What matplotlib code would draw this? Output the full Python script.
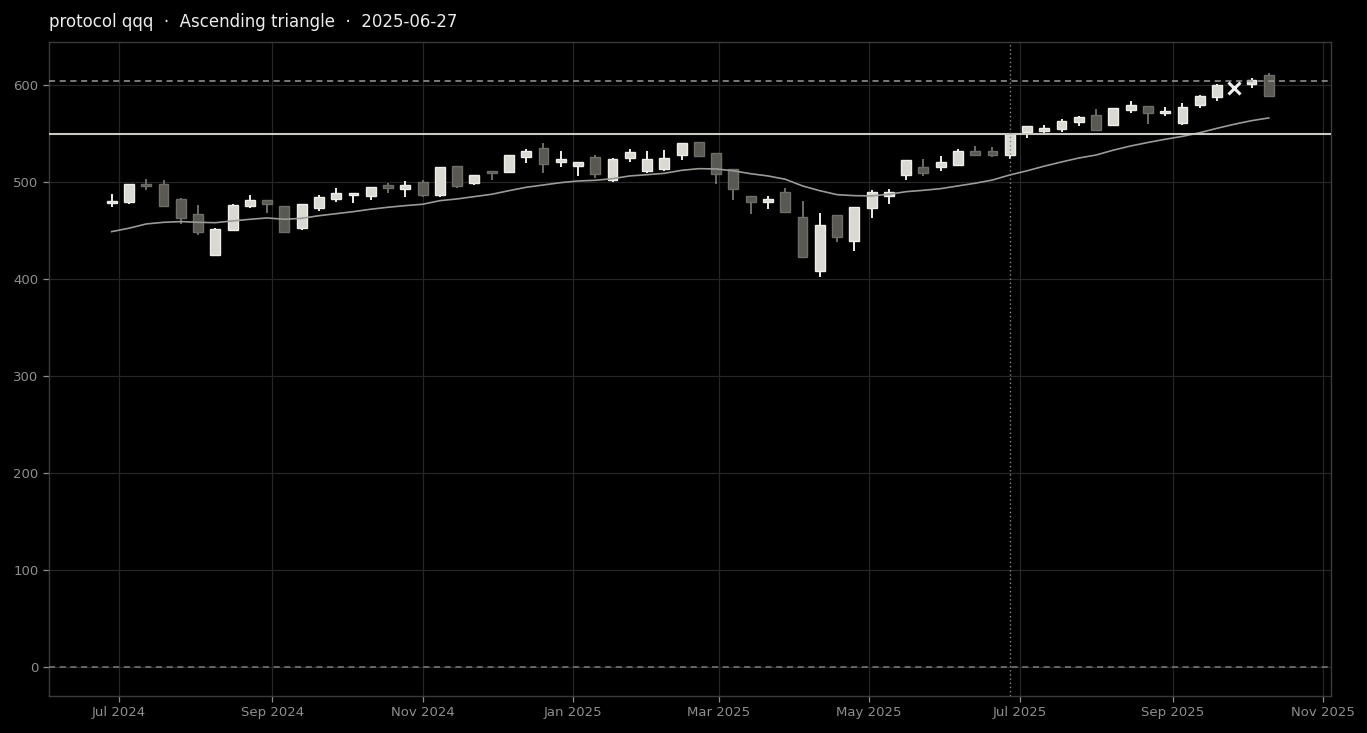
import numpy as np
import pandas as pd
import matplotlib
matplotlib.use("Agg")
import matplotlib.pyplot as plt
import matplotlib.dates as mdates

# weekly candles (Fridays)
week_start = "2024-06-28"
opens = [478.4, 479.7, 498.0, 497.6, 482.2, 467.0, 424.7, 450.5, 475.0, 481.1,
         475.0, 452.9, 473.5, 482.8, 486.3, 485.3, 497.2, 493.1, 500.0, 486.9,
         516.2, 498.7, 511.3, 510.6, 525.5, 534.7, 520.3, 516.5, 525.5, 501.8,
         524.4, 511.0, 513.7, 527.5, 540.9, 529.6, 513.1, 485.3, 479.7, 489.4,
         463.6, 408.6, 465.7, 438.9, 472.9, 485.3, 506.9, 515.2, 515.8, 517.2,
         531.6, 531.6, 527.5, 551.2, 552.9, 554.3, 562.2, 568.7, 559.1, 574.2,
         578.0, 570.8, 561.1, 579.0, 587.9, np.nan, 601.0, 610.3]
highs = [487.5, 498.0, 503.4, 501.7, 483.8, 476.0, 452.3, 477.6, 486.6, 481.6,
         475.5, 477.6, 486.3, 493.5, 488.7, 494.5, 499.3, 500.7, 501.7, 515.8,
         516.6, 507.5, 511.8, 527.8, 533.7, 539.9, 531.6, 520.6, 528.1, 524.4,
         533.7, 531.6, 532.7, 540.2, 541.2, 530.0, 513.4, 485.6, 485.9, 493.8,
         480.1, 467.7, 466.0, 474.3, 491.8, 492.5, 522.7, 523.4, 526.5, 533.7,
         536.8, 535.8, 550.0, 557.7, 558.5, 564.6, 567.6, 574.9, 576.3, 583.2,
         578.3, 577.6, 581.0, 589.3, 600.6, np.nan, 607.5, 612.7]
lows = [474.2, 477.0, 491.8, 474.0, 456.7, 445.0, 423.7, 449.5, 473.5, 467.7,
        448.1, 450.2, 469.8, 479.7, 478.0, 481.1, 488.3, 484.9, 484.9, 484.2,
        494.1, 496.6, 501.7, 510.0, 519.3, 509.6, 515.8, 506.2, 503.8, 499.7,
        520.3, 508.9, 511.0, 522.4, 526.0, 497.6, 481.1, 466.7, 472.5, 468.5,
        422.7, 402.4, 437.8, 428.6, 462.6, 477.0, 501.7, 506.2, 511.6, 517.0,
        526.5, 525.5, 523.4, 545.7, 550.8, 551.9, 558.0, 552.3, 558.8, 570.8,
        559.8, 568.0, 558.8, 576.6, 583.8, np.nan, 596.6, 588.7]
closes = [480.4, 497.6, 495.6, 475.6, 463.2, 448.8, 451.2, 476.3, 481.1, 477.0,
          448.8, 477.0, 484.2, 488.7, 488.7, 494.5, 494.1, 496.9, 486.9, 515.2,
          496.2, 506.9, 509.6, 527.5, 531.6, 518.9, 523.4, 520.3, 507.9, 523.4,
          530.6, 523.4, 524.4, 539.9, 526.5, 507.9, 492.5, 479.7, 482.2, 468.8,
          423.0, 455.4, 443.6, 473.9, 490.0, 489.4, 522.4, 509.6, 520.3, 531.6,
          527.5, 527.5, 549.2, 557.4, 555.7, 562.6, 567.3, 553.6, 576.0, 579.4,
          571.4, 573.2, 577.3, 588.7, 600.3, np.nan, 604.8, 589.0]
ma = [448.8, 452.3, 456.7, 458.4, 459.1, 458.4, 458.0, 459.8, 461.5, 462.9,
      461.5, 462.5, 465.2, 467.3, 469.4, 471.9, 473.9, 475.6, 477.0, 480.7,
      482.5, 484.9, 487.3, 491.0, 494.5, 496.9, 499.3, 501.0, 501.7, 503.4,
      506.2, 507.5, 508.9, 512.0, 513.7, 513.4, 511.5, 508.5, 506.2, 502.8,
      495.9, 491.0, 486.9, 485.9, 485.6, 487.3, 490.0, 491.4, 493.1, 495.9,
      498.7, 502.0, 507.2, 511.5, 516.3, 520.6, 524.7, 527.8, 532.8, 537.1,
      540.7, 544.0, 547.0, 550.8, 555.3, 559.5, 563.2, 566.0]

resistance = 549.5
upper_dash = 604.0
pattern_date = "2025-06-27"
marker_date = "2025-09-26"
marker_price = 597.0
title = "protocol qqq  \u00b7  Ascending triangle  \u00b7  2025-06-27"

dates = pd.date_range(week_start, periods=len(opens), freq="W-FRI")
df = pd.DataFrame({"open": opens, "high": highs, "low": lows, "close": closes, "ma": ma},
                  index=dates)

BG = "#000000"
UP_FILL, UP_EDGE = "#dad8d2", "#efede8"
DN_FILL, DN_EDGE = "#5a5853", "#6e6c67"

fig = plt.figure(figsize=(13.67, 7.33), dpi=100, facecolor=BG)
ax = fig.add_axes([49 / 1367, 1 - 696 / 733, 1282 / 1367, 654 / 733], facecolor=BG)

x = mdates.date2num(df.index.to_pydatetime())
ok = df["open"].notna().values
up = (df["close"] >= df["open"]).values

for i in np.where(ok)[0]:
    o, h, l, c = df["open"].iloc[i], df["high"].iloc[i], df["low"].iloc[i], df["close"].iloc[i]
    fill, edge = (UP_FILL, UP_EDGE) if up[i] else (DN_FILL, DN_EDGE)
    ax.vlines(x[i], l, h, color=edge, lw=1.4, zorder=2)
    ax.bar(x[i], max(abs(c - o), 0.6), bottom=min(o, c), width=4.0,
           color=fill, edgecolor=edge, linewidth=1.0, zorder=2.5)

ax.plot(x, df["ma"], color="#9a9a96", lw=1.2, zorder=3)

ax.axhline(resistance, color="#c9c8c2", lw=1.5, zorder=3)
ax.axhline(upper_dash, color="#9a9a9a", lw=1.1, ls=(0, (4, 3)), zorder=3)
ax.axhline(0, color="#7c7c7c", lw=1.1, ls=(0, (4, 3)), zorder=3)
ax.axvline(mdates.date2num(pd.Timestamp(pattern_date)), color="#8a8a8a", lw=1.0,
           ls=(0, (1, 2)), zorder=3)

ax.plot(mdates.date2num(pd.Timestamp(marker_date)), marker_price, marker="x",
        color="#eeeeee", ms=9, mew=2.2, zorder=4)

ax.set_xlim(mdates.date2num(pd.Timestamp("2024-06-02 14:00")),
            mdates.date2num(pd.Timestamp("2025-11-04 05:00")))
ax.set_ylim(-30, 644.3)
ax.set_yticks(range(0, 601, 100))
ax.xaxis.set_major_locator(mdates.MonthLocator(bymonth=[1, 3, 5, 7, 9, 11]))
ax.xaxis.set_major_formatter(mdates.DateFormatter("%b %Y"))

ax.grid(True, color="#262626", lw=0.9, zorder=0)
ax.set_axisbelow(True)
for s in ax.spines.values():
    s.set_color("#3a3a3a")
    s.set_linewidth(1.0)
ax.tick_params(colors="#8e8e8e", labelsize=9.5, length=4, width=0.9)
for t in ax.get_xticklabels() + ax.get_yticklabels():
    t.set_color("#8e8e8e")

ax.set_title(title, loc="left", color="#ececec", fontsize=12, pad=11)

fig.savefig("out.png", dpi=100, facecolor=BG)
